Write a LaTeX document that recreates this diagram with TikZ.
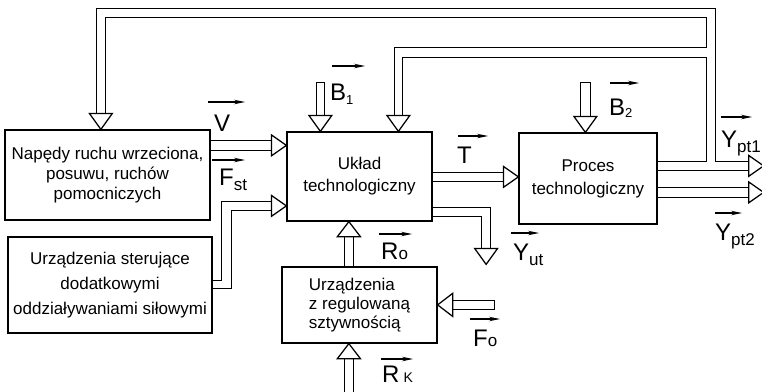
\documentclass[tikz,border=0pt]{standalone}
\usepackage{fontspec}
\setmainfont{Liberation Sans}
\usetikzlibrary{calc,arrows.meta}
\newcommand\headR[1]{\draw[head] (#1) -- ++(-15,-10.5) -- ++(0,21) -- cycle;}
\newcommand\headL[1]{\draw[head] (#1) -- ++(15,-11.5) -- ++(0,23) -- cycle;}
\newcommand\headD[1]{\draw[head] (#1) -- ++(-11.5,-16) -- ++(23,0) -- cycle;}
\newcommand\headU[1]{\draw[head] (#1) -- ++(-11.5,15) -- ++(23,0) -- cycle;}
\newcommand\sbs[2][-5pt]{\raisebox{#1}{\fontsize{17}{17}\selectfont #2}}
\begin{document}
\begin{tikzpicture}[x=1pt,y=-1pt,
  box/.style={draw, line width=1.25pt, rectangle, inner sep=0pt, align=center,
              font=\fontsize{17}{20}\selectfont},
  ch/.style={line width=1.25pt, line join=miter},
  head/.style={line width=1.25pt, line join=miter, fill=white},
  lab/.style={font=\fontsize{24}{24}\selectfont, inner sep=0pt, anchor=base west},
  vec/.style={line width=1.2pt, -{Stealth[length=11pt,width=4.5pt]}}]
\useasboundingbox[fill=white] (0,0) rectangle (762,391);

% boxes
\node[box, minimum width=205pt, minimum height=90pt] (A) at (107.5,175)
  {Napędy ruchu wrzeciona,\\posuwu, ruchów\\pomocniczych};
\node[box, minimum width=204pt, minimum height=96pt, font=\fontsize{17}{25}\selectfont] (B) at (110,285)
  {Urządzenia sterujące\\dodatkowymi\\oddziaływaniami siłowymi};
\node[box, minimum width=145pt, minimum height=89pt, font=\fontsize{17}{22}\selectfont] (C) at (359.5,176.5)
  {Układ\\technologiczny};
\node[box, minimum width=138pt, minimum height=91pt, font=\fontsize{17}{23}\selectfont] (D) at (588,178.5)
  {Proces\\technologiczny};
\node[box, minimum width=155pt, minimum height=76pt, align=left, font=\fontsize{17}{19}\selectfont] (E) at (359.5,305)
  {Urządzenia\\z regulowaną\\sztywnością};

% V
\draw[ch] ($(A.north east)+(0,11)$) -- ($(C.north west)+(-15,9)$);
\draw[ch] ($(A.north east)+(0,21)$) -- ($(C.north west)+(-15,19)$);
\headR{$(C.north west)+(0,14)$}
% F_st
\draw[ch] ($(B.north east)+(0,44)$) -| ($(C.north west)+(-65,70)$) -- ++(50,0);
\draw[ch] ($(B.north east)+(0,52)$) -| ($(C.north west)+(-55,79)$) -- ++(40,0);
\headR{$(C.north west)+(0,74.5)$}
% B1
\draw[ch] ($(C.north west)+(30,-16)$) -- ++(0,-33) -- ++(8,0) -- ++(0,33);
\headD{$(C.north west)+(34,0)$}
% B2
\draw[ch] ($(D.north west)+(62,-16)$) -- ++(0,-34) -- ++(10,0) -- ++(0,34);
\headD{$(D.north west)+(67,0)$}
% T
\draw[ch] ($(C.north east)+(0,41)$) -- ($(D.north west)+(-15,40)$);
\draw[ch] ($(C.north east)+(0,50)$) -- ($(D.north west)+(-15,49)$);
\headR{$(D.north west)+(0,44.5)$}
% Y_ut
\draw[ch] ($(C.north east)+(0,76)$) -| ($(C.north east)+(58,117)$);
\draw[ch] ($(C.north east)+(0,85)$) -| ($(C.north east)+(49,117)$);
\headD{$(C.north east)+(53.5,133)$}
% R0
\draw[ch] ($(E.north west)+(63,0)$) -- ++(0,-31);
\draw[ch] ($(E.north west)+(72,0)$) -- ++(0,-31);
\headU{$(C.south west)+(62.5,0)$}
% R_K
\draw[ch] ($(E.south west)+(63,15)$) -- ++(0,50);
\draw[ch] ($(E.south west)+(72,15)$) -- ++(0,50);
\headU{$(E.south west)+(67.5,0)$}
% F0
\draw[ch] ($(E.north east)+(15,34)$) -- ++(42,0) -- ++(0,9) -- ++(-42,0);
\headL{$(E.north east)+(0,38.5)$}
% Y_pt2
\draw[ch] ($(D.north east)+(0,55)$) -- ++(91,0);
\draw[ch] ($(D.north east)+(0,65)$) -- ++(91,0);
\headR{$(D.north east)+(106,60)$}
% Y_pt1 and feedback loops
\draw[ch] ($(D.north east)+(0,38)$) -- ++(91,0);
\draw[ch] ($(D.north east)+(0,29)$) -| ($(D.north east)+(49,-75)$) -| ($(C.north west)+(116,-16)$);
\draw[ch] ($(C.north west)+(108,-16)$) |- ($(D.north east)+(49,-85)$) |- ($(A.north west)+(101,-112)$) -- ($(A.north west)+(101,-16)$);
\draw[ch] ($(A.north west)+(92,-16)$) |- ($(D.north east)+(58,-124)$) |- ($(D.north east)+(91,29)$);
\headR{$(D.north east)+(106,33.5)$}
\headD{$(C.north west)+(112,0)$}
\headD{$(A.north west)+(96.5,0)$}

% labels
\node[lab] (lV) at (214,131) {V};
\draw[vec] ($(lV.base west)+(-6,-29)$) -- ++(37,0);
\node[lab] (lF) at (219,185) {F\sbs{st}};
\draw[vec] ($(lF.base west)+(-7,-25)$) -- ++(33,0);
\node[lab] (lB1) at (330,100) {B\sbs[-4pt]{\fontsize{13}{13}\selectfont 1}};
\draw[vec] ($(lB1.base west)+(2,-34)$) -- ++(33,0);
\node[lab] (lT) at (457,163) {T};
\draw[vec] ($(lT.base west)+(1,-27)$) -- ++(30,0);
\node[lab] (lB2) at (609,115) {B\sbs[-2pt]{\fontsize{13}{13}\selectfont 2}};
\draw[vec] ($(lB2.base west)+(1,-32)$) -- ++(29,0);
\node[lab] (lY1) at (721,147) {Y\sbs{pt1}};
\draw[vec] ($(lY1.base west)+(0,-30)$) -- ++(31,0);
\node[lab] (lY2) at (715,240) {Y\sbs{pt2}};
\draw[vec] ($(lY2.base west)+(0,-27)$) -- ++(27,0);
\node[lab] (lYu) at (513,260) {Y\sbs{ut}};
\draw[vec] ($(lYu.base west)+(-2,-27)$) -- ++(28,0);
\node[lab] (lR0) at (381,259) {R\sbs[0pt]{o}};
\draw[vec] ($(lR0.base west)+(-2,-25)$) -- ++(33,0);
\node[lab] (lRK) at (382,382) {R\,\sbs[0pt]{\fontsize{14}{14}\selectfont K}};
\draw[vec] ($(lRK.base west)+(-1,-23)$) -- ++(32,0);
\node[lab] (lF0) at (473,346) {F\sbs[0pt]{o}};
\draw[vec] ($(lF0.base west)+(-3,-27)$) -- ++(30,0);
\end{tikzpicture}
\end{document}
